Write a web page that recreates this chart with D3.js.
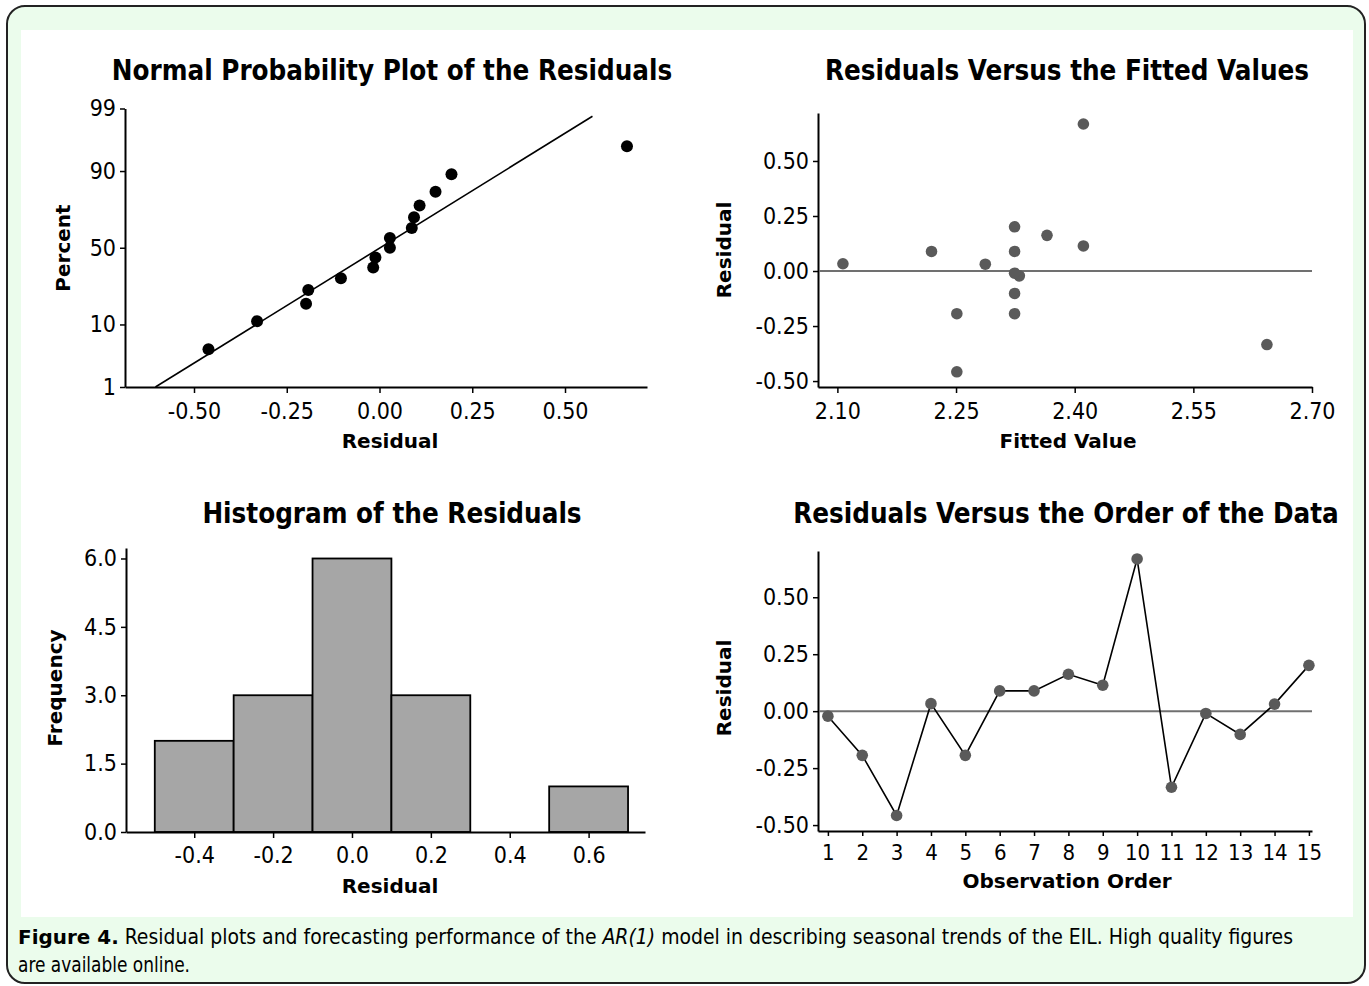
<!DOCTYPE html>
<html>
<head>
<meta charset="utf-8">
<script src="https://cdn.jsdelivr.net/npm/d3@7"></script>
<style>
  html, body { margin: 0; padding: 0; background: #ffffff; }
  svg { display: block; }
</style>
</head>
<body>
<svg id="chart" width="1369" height="986"></svg>
<script>
// ---------------- DATA ----------------
const observationOrder = [1,2,3,4,5,6,7,8,9,10,11,12,13,14,15];
const residuals = [-0.022, -0.194, -0.458, 0.033, -0.194, 0.089, 0.089, 0.162, 0.114, 0.668, -0.334, -0.010, -0.102, 0.031, 0.201];
const fittedValues = [2.330, 2.324, 2.251, 2.107, 2.251, 2.219, 2.324, 2.365, 2.411, 2.411, 2.643, 2.324, 2.324, 2.287, 2.324];

// normal probability plot (sorted residuals vs percent)
const probResiduals = [-0.461, -0.330, -0.198, -0.192, -0.104, -0.017, -0.011, 0.028, 0.028, 0.087, 0.093, 0.108, 0.151, 0.194, 0.667];
const probPercent   = [4.5, 11.0, 17.5, 24.0, 30.5, 37.0, 43.5, 50.0, 56.5, 63.0, 69.5, 76.0, 82.5, 89.0, 95.5];
const fitLineResidual = [-0.604, 0.574];
const fitLinePercent  = [1, 98.6];
const percentTicks = [1, 10, 50, 90, 99];
const residualTicksA = [-0.50, -0.25, 0.00, 0.25, 0.50];

// histogram
const binStart = [-0.5, -0.3, -0.1, 0.1, 0.3, 0.5];
const binEnd   = [-0.3, -0.1, 0.1, 0.3, 0.5, 0.7];
const binCount = [2, 3, 6, 3, 0, 1];
const histXTicks = [-0.4, -0.2, 0.0, 0.2, 0.4, 0.6];
const histYTicks = [0.0, 1.5, 3.0, 4.5, 6.0];

// fitted & order
const fittedTicks = [2.10, 2.25, 2.40, 2.55, 2.70];
const residTicks = [-0.50, -0.25, 0.00, 0.25, 0.50];

const titles = ["Normal Probability Plot of the Residuals", "Residuals Versus the Fitted Values",
                "Histogram of the Residuals", "Residuals Versus the Order of the Data"];

// ---------------- HELPERS ----------------
const svg = d3.select("#chart");
const TICK_FONT = '"DejaVu Sans Condensed", "DejaVu Sans", sans-serif';
const BOLD_FONT = '"DejaVu Sans Condensed", "DejaVu Sans", sans-serif';
const hy = f => (d => f(d).replace("\u2212", "-"));
const f2 = hy(d3.format(".2f")), f1 = hy(d3.format(".1f"));

// frame
svg.append("rect").attr("x", 7).attr("y", 6).attr("width", 1358).attr("height", 977)
  .attr("rx", 18).attr("ry", 18).attr("fill", "#ebfcec").attr("stroke", "#222").attr("stroke-width", 2);
svg.append("rect").attr("x", 21).attr("y", 30).attr("width", 1332).attr("height", 887).attr("fill", "#ffffff");

function title(text, cx, baseline) {
  svg.append("text").attr("x", cx).attr("y", baseline).attr("text-anchor", "middle")
    .attr("font-family", BOLD_FONT).attr("font-weight", "bold").attr("font-size", 27.5)
    .attr("fill", "#000").text(text);
}
function xLabel(text, cx, baseline) {
  svg.append("text").attr("x", cx).attr("y", baseline).attr("text-anchor", "middle")
    .attr("font-family", '"DejaVu Sans", sans-serif').attr("font-weight", "bold").attr("font-size", 20)
    .attr("fill", "#000").text(text);
}
function yLabel(text, bx, cy) {
  svg.append("text").attr("transform", `translate(${bx},${cy}) rotate(-90)`).attr("text-anchor", "middle")
    .attr("font-family", '"DejaVu Sans", sans-serif').attr("font-weight", "bold").attr("font-size", 20)
    .attr("fill", "#000").text(text);
}
function styleAxis(g, fontSize) {
  g.select(".domain").attr("stroke", "#000").attr("stroke-width", 2);
  g.selectAll(".tick line").attr("stroke", "#000").attr("stroke-width", 1.5);
  g.selectAll(".tick text").attr("font-family", TICK_FONT).attr("font-size", fontSize).attr("fill", "#000");
}

// ---------------- PANEL A: Normal probability plot ----------------
{
  const x = d3.scaleLinear().domain([-0.686, 0.721]).range([125, 647]);
  const y = d3.scaleLinear().domain([invNorm(0.01), invNorm(0.99)]).range([387, 108.5]);

  const gx = svg.append("g").attr("transform", "translate(0,387)")
    .call(d3.axisBottom(x).tickValues(residualTicksA).tickFormat(f2).tickSize(6).tickSizeOuter(0).tickPadding(10));
  styleAxis(gx, 23);
  const gy = svg.append("g").attr("transform", "translate(125,0)")
    .call(d3.axisLeft(y).tickValues(percentTicks.map(p => invNorm(p / 100)))
      .tickFormat((d, i) => percentTicks[i]).tickSize(5).tickSizeOuter(0).tickPadding(4));
  styleAxis(gy, 23);

  svg.append("line")
    .attr("x1", x(fitLineResidual[0])).attr("y1", y(invNorm(fitLinePercent[0] / 100)))
    .attr("x2", x(fitLineResidual[1])).attr("y2", y(invNorm(fitLinePercent[1] / 100)))
    .attr("stroke", "#000").attr("stroke-width", 1.6);

  svg.append("g").selectAll("circle").data(probResiduals).join("circle")
    .attr("cx", d => x(d)).attr("cy", (d, i) => y(invNorm(probPercent[i] / 100)))
    .attr("r", 6).attr("fill", "#000");

  title(titles[0], 392, 80);
  xLabel("Residual", 390, 448);
  yLabel("Percent", 70, 248);
}

// ---------------- PANEL B: Residuals vs Fitted ----------------
{
  const x = d3.scaleLinear().domain([2.0755, 2.70]).range([818, 1312]);
  const y = d3.scaleLinear().domain([-0.527, 0.718]).range([387, 113]);

  const gx = svg.append("g").attr("transform", "translate(0,387)")
    .call(d3.axisBottom(x).tickValues(fittedTicks).tickFormat(f2).tickSize(6).tickSizeOuter(0).tickPadding(10));
  styleAxis(gx, 23);
  const gy = svg.append("g").attr("transform", "translate(818,0)")
    .call(d3.axisLeft(y).tickValues(residTicks).tickFormat(f2).tickSize(5).tickSizeOuter(0).tickPadding(4));
  styleAxis(gy, 23);

  svg.append("line").attr("x1", 819).attr("x2", x(2.70)).attr("y1", y(0)).attr("y2", y(0))
    .attr("stroke", "#707070").attr("stroke-width", 2);

  svg.append("g").selectAll("circle").data(residuals).join("circle")
    .attr("cx", (d, i) => x(fittedValues[i])).attr("cy", d => y(d))
    .attr("r", 5.8).attr("fill", "#5a5a5a");

  title(titles[1], 1067, 80);
  xLabel("Fitted Value", 1068, 448);
  yLabel("Residual", 731, 250);
}

// ---------------- PANEL C: Histogram ----------------
{
  const x = d3.scaleLinear().domain([-0.573, 0.743]).range([126, 645]);
  const y = d3.scaleLinear().domain([0, 6.23]).range([832, 548]);

  svg.append("g").selectAll("rect").data(binCount).join("rect")
    .attr("x", (d, i) => x(binStart[i])).attr("width", (d, i) => x(binEnd[i]) - x(binStart[i]))
    .attr("y", d => y(d)).attr("height", d => y(0) - y(d))
    .attr("fill", "#a6a6a6").attr("stroke", "#000").attr("stroke-width", 1.8);

  const gx = svg.append("g").attr("transform", "translate(0,832)")
    .call(d3.axisBottom(x).tickValues(histXTicks).tickFormat(f1).tickSize(6).tickSizeOuter(0).tickPadding(9));
  styleAxis(gx, 23);
  const gy = svg.append("g").attr("transform", "translate(126,0)")
    .call(d3.axisLeft(y).tickValues(histYTicks).tickFormat(f1).tickSize(5).tickSizeOuter(0).tickPadding(4));
  styleAxis(gy, 23);

  title(titles[2], 392, 523);
  xLabel("Residual", 390, 893);
  yLabel("Frequency", 62, 688);
}

// ---------------- PANEL D: Residuals vs Order ----------------
{
  const x = d3.scaleLinear().domain([0.712, 15.09]).range([818, 1312]);
  const y = d3.scaleLinear().domain([-0.526, 0.703]).range([831, 551]);

  const gx = svg.append("g").attr("transform", "translate(0,831)")
    .call(d3.axisBottom(x).tickValues(observationOrder).tickFormat(d3.format("d")).tickSize(5).tickSizeOuter(0).tickPadding(8));
  styleAxis(gx, 22);
  const gy = svg.append("g").attr("transform", "translate(818,0)")
    .call(d3.axisLeft(y).tickValues(residTicks).tickFormat(f2).tickSize(5).tickSizeOuter(0).tickPadding(4));
  styleAxis(gy, 23);

  svg.append("line").attr("x1", 819).attr("x2", 1312).attr("y1", y(0)).attr("y2", y(0))
    .attr("stroke", "#707070").attr("stroke-width", 2);

  const line = d3.line().x((d, i) => x(observationOrder[i])).y(d => y(d));
  svg.append("path").datum(residuals).attr("d", line).attr("fill", "none")
    .attr("stroke", "#000").attr("stroke-width", 1.6);

  svg.append("g").selectAll("circle").data(residuals).join("circle")
    .attr("cx", (d, i) => x(observationOrder[i])).attr("cy", d => y(d))
    .attr("r", 5.8).attr("fill", "#5a5a5a");

  title(titles[3], 1066, 523);
  xLabel("Observation Order", 1067, 888);
  yLabel("Residual", 731, 688);
}

// ---------------- CAPTION ----------------
{
  const capFont = '"Liberation Sans Narrow", "DejaVu Sans Condensed", sans-serif';
  const t1 = svg.append("text").attr("x", 18).attr("y", 944).attr("font-family", capFont)
    .attr("font-size", 21).attr("fill", "#000");
  t1.append("tspan").attr("font-weight", "bold").attr("font-family", '"DejaVu Sans", sans-serif').attr("font-size", 20).text("Figure 4.");
  t1.append("tspan").text(" Residual plots and forecasting performance of the ");
  t1.append("tspan").attr("font-style", "italic").text("AR(1)");
  t1.append("tspan").text(" model in describing seasonal trends of the EIL. High quality figures");
  t1.attr("textLength", 1275).attr("lengthAdjust", "spacingAndGlyphs");
  svg.append("text").attr("x", 18).attr("y", 972).attr("font-family", capFont)
    .attr("font-size", 21).attr("fill", "#000").attr("textLength", 172).attr("lengthAdjust", "spacingAndGlyphs")
    .text("are available online.");
}

// inverse standard normal CDF (Acklam's algorithm) used for the probability scale
function invNorm(p) {
  const a = [-3.969683028665376e+01, 2.209460984245205e+02, -2.759285104469687e+02, 1.383577518672690e+02, -3.066479806614716e+01, 2.506628277459239e+00];
  const b = [-5.447609879822406e+01, 1.615858368580409e+02, -1.556989798598866e+02, 6.680131188771972e+01, -1.328068155288572e+01];
  const c = [-7.784894002430293e-03, -3.223964580411365e-01, -2.400758277161838e+00, -2.549732539343734e+00, 4.374664141464968e+00, 2.938163982698783e+00];
  const d = [7.784695709041462e-03, 3.224671290700398e-01, 2.445134137142996e+00, 3.754408661907416e+00];
  const pl = 0.02425, ph = 1 - pl;
  let q, r;
  if (p < pl) { q = Math.sqrt(-2 * Math.log(p));
    return (((((c[0]*q+c[1])*q+c[2])*q+c[3])*q+c[4])*q+c[5]) / ((((d[0]*q+d[1])*q+d[2])*q+d[3])*q+1); }
  if (p <= ph) { q = p - 0.5; r = q * q;
    return (((((a[0]*r+a[1])*r+a[2])*r+a[3])*r+a[4])*r+a[5])*q / (((((b[0]*r+b[1])*r+b[2])*r+b[3])*r+b[4])*r+1); }
  q = Math.sqrt(-2 * Math.log(1 - p));
  return -(((((c[0]*q+c[1])*q+c[2])*q+c[3])*q+c[4])*q+c[5]) / ((((d[0]*q+d[1])*q+d[2])*q+d[3])*q+1);
}
</script>
</body>
</html>
